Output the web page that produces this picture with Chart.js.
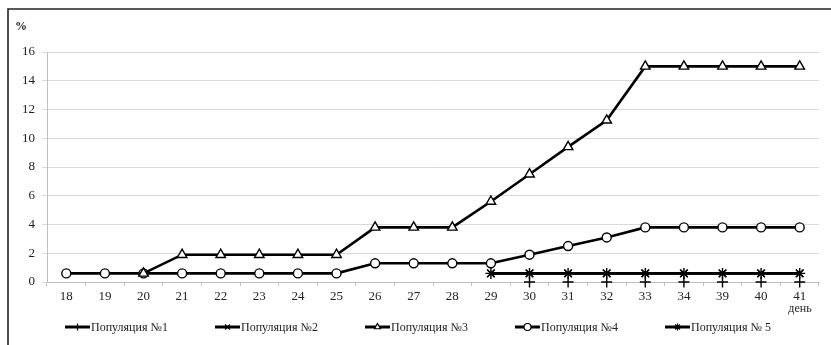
<!DOCTYPE html>
<html>
<head>
<meta charset="utf-8">
<script src="https://cdn.jsdelivr.net/npm/chart.js@4.4.0/dist/chart.umd.min.js"></script>
<style>
  html, body { margin: 0; padding: 0; background: #fff; }
  canvas { display: block; }
</style>
</head>
<body>
<canvas id="chart" width="831" height="345"></canvas>
<script>
const days = ["18", "19", "20", "21", "22", "23", "24", "25", "26", "27", "28", "29", "30", "31", "32", "33", "34", "39", "40", "41"];

const pop1 = [null, null, null, null, null, null, null, null, null, null, null, null, 0, 0, 0, 0, 0, 0, 0, 0];
const pop2 = [null, null, null, null, null, null, null, null, null, null, null, 0.6, 0.6, 0.6, 0.6, 0.6, 0.6, 0.6, 0.6, 0.6];
const pop3 = [null, null, 0.6, 1.9, 1.9, 1.9, 1.9, 1.9, 3.8, 3.8, 3.8, 5.6, 7.5, 9.4, 11.25, 15, 15, 15, 15, 15];
const pop4 = [0.6, 0.6, 0.6, 0.6, 0.6, 0.6, 0.6, 0.6, 1.3, 1.3, 1.3, 1.3, 1.9, 2.5, 3.1, 3.8, 3.8, 3.8, 3.8, 3.8];
const pop5 = [null, null, null, null, null, null, null, null, null, null, null, 0.6, 0.6, 0.6, 0.6, 0.6, 0.6, 0.6, 0.6, 0.6];

const names = ["Популяция №1", "Популяция №2", "Популяция №3", "Популяция №4", "Популяция № 5"];
const yTicks = [0, 2, 4, 6, 8, 10, 12, 14, 16];

const serif = "'Liberation Serif', 'Times New Roman', serif";

function series(label, data, style, radius, showLine) {
  return {
    label: label,
    data: data,
    borderColor: "#000",
    borderWidth: 2.6,
    pointStyle: style,
    pointRadius: radius,
    pointBorderWidth: 1.4,
    pointBorderColor: "#000",
    pointBackgroundColor: "#fff",
    showLine: showLine,
    tension: 0,
    spanGaps: false,
    clip: false
  };
}

// frame, axis captions and the line-with-marker legend
const extras = {
  id: "extras",
  afterDraw(chart) {
    const ctx = chart.ctx;
    ctx.save();
    ctx.strokeStyle = "#222";
    ctx.lineWidth = 1.6;
    ctx.beginPath();
    ctx.moveTo(8, 345);
    ctx.lineTo(8, 9);
    ctx.lineTo(831, 9);
    ctx.stroke();

    ctx.fillStyle = "#222";
    ctx.font = "bold 12px " + serif;
    ctx.textBaseline = "middle";
    ctx.textAlign = "left";
    ctx.fillText("%", 15, 27);

    ctx.font = "12px " + serif;
    ctx.textAlign = "center";
    ctx.fillText("день", 800, 309);

    ctx.font = "12px " + serif;
    ctx.textAlign = "left";
    chart.data.datasets.forEach((ds, i) => {
      const x = 65 + 150 * i;
      const y = 327;
      ctx.strokeStyle = "#000";
      ctx.lineWidth = 3;
      ctx.beginPath();
      ctx.moveTo(x, y);
      ctx.lineTo(x + 25, y);
      ctx.stroke();
      ctx.fillStyle = "#fff";
      ctx.strokeStyle = "#000";
      ctx.lineWidth = 1.2;
      Chart.helpers.drawPoint(ctx, { pointStyle: ds.pointStyle, radius: 3.5, rotation: 0, borderWidth: 1.2 }, x + 12.5, y);
      ctx.fillStyle = "#222";
      ctx.fillText(ds.label, x + 26, y + 1);
    });
    ctx.restore();
  }
};

new Chart(document.getElementById("chart"), {
  type: "line",
  data: {
    labels: days,
    datasets: [
      series(names[0], pop1, "cross", 5.5, false),
      series(names[1], pop2, "crossRot", 5, true),
      series(names[2], pop3, "triangle", 5.5, true),
      series(names[3], pop4, "circle", 4.5, true),
      series(names[4], pop5, "star", 5.5, true)
    ]
  },
  options: {
    responsive: false,
    devicePixelRatio: 1,
    animation: false,
    layout: { padding: { left: 0, top: 52, right: 12, bottom: 0 } },
    plugins: {
      legend: { display: false },
      tooltip: { enabled: false }
    },
    scales: {
      x: {
        offset: true,
        grid: {
          display: true,
          drawOnChartArea: false,
          offset: true,
          drawTicks: true,
          tickLength: 4,
          color: "#bfbfbf"
        },
        border: { color: "#bfbfbf", width: 1 },
        ticks: {
          color: "#222",
          padding: 3,
          maxRotation: 0,
          autoSkip: false,
          font: { family: serif, size: 13 }
        },
        afterFit(scale) { scale.height = 63; }
      },
      y: {
        min: 0,
        max: 16,
        afterBuildTicks(scale) { scale.ticks = yTicks.map(v => ({ value: v })); },
        grid: {
          color: "#d9d9d9",
          tickLength: 5,
          drawTicks: true
        },
        border: { color: "#bfbfbf", width: 1 },
        ticks: {
          color: "#222",
          padding: 7,
          font: { family: serif, size: 13 }
        },
        afterFit(scale) { scale.width = 47; }
      }
    }
  },
  plugins: [extras]
});
</script>
</body>
</html>
